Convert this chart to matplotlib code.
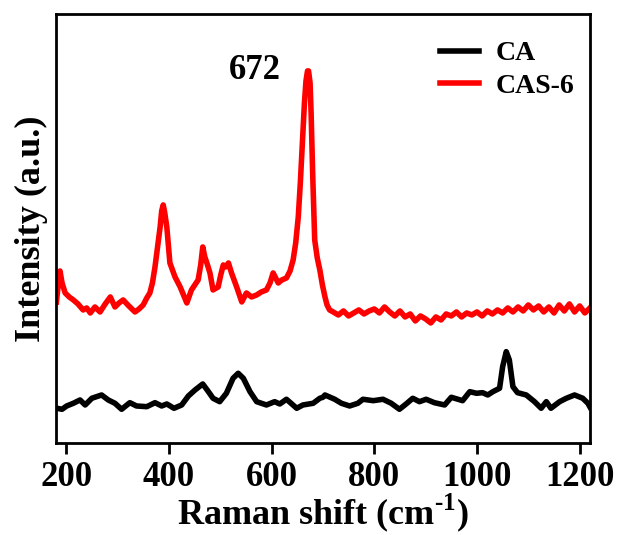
import matplotlib
matplotlib.use("Agg")
import matplotlib.pyplot as plt

plt.rcParams['font.family'] = ['Liberation Serif', 'DejaVu Serif']
plt.rcParams['font.weight'] = 'bold'
plt.rcParams['mathtext.fontset'] = 'custom'
plt.rcParams['mathtext.rm'] = 'Liberation Serif:bold'
plt.rcParams['mathtext.bf'] = 'Liberation Serif:bold'

# CA spectrum (Raman shift in cm-1, intensity in a.u.)
ca_shift = [182, 192, 201, 214, 227, 237, 250, 269, 282, 295, 308, 324, 337, 357,
            373, 386, 396, 410, 425, 438, 451, 466, 477, 486, 499, 512, 525, 535,
            545, 558, 571, 590, 606, 616, 629, 649, 661, 681, 694, 700, 704, 723,
            736, 752, 768, 778, 798, 817, 833, 849, 862, 875, 888, 901, 917, 937,
            950, 963, 972, 986, 999, 1011, 1021, 1031, 1044, 1050, 1057, 1063, 1070,
            1079, 1096, 1112, 1125, 1135, 1144, 1161, 1174, 1190, 1206, 1216, 1220]
ca_int = [34.7, 33.7, 37, 39.7, 43, 38, 44.7, 48, 43, 39.7, 33.7, 40.3, 37, 36.3,
          40.3, 37, 39, 34.7, 38, 47, 53, 59, 51.3, 44.7, 41.3, 49.7, 64.7, 69.7,
          64.7, 51.3, 41.3, 38, 41.3, 39, 43.7, 34.7, 38, 39.7, 44.7, 45.7, 48, 43.7,
          39.7, 37, 39.7, 43.7, 42.3, 43.7, 39.7, 33.7, 39, 44.7, 41.3, 43.7, 40.3, 38,
          45.7, 43.7, 42.3, 51.3, 49.7, 50.3, 48, 51.3, 54.7, 76.3, 91.3, 83, 56.3,
          50.3, 48, 41.3, 34.7, 41.3, 34.7, 41.3, 44.7, 48, 44.7, 39.7, 36]

# CAS-6 spectrum
cas_shift = [181, 185, 188, 192, 198, 206, 214, 223, 233, 240, 247, 256, 266, 276,
             286, 295, 303, 311, 322, 334, 342, 350, 357, 363, 368,
             373, 378, 383, 386, 389, 392, 396, 402, 412, 422, 435, 444, 457, 462, 466,
             470, 474, 480, 486, 496, 501, 506, 511, 516, 522, 532, 542, 551, 561, 571,
             580, 590, 597, 603, 608, 613, 620, 629, 636, 642, 647, 652, 656,
             661, 664, 667, 670, 672, 675, 677, 680, 684, 689, 694, 699, 704, 708, 713,
             720, 730, 740, 750, 760, 770, 780, 790, 800, 810, 820, 830, 840, 850,
             860, 870, 880, 890, 900, 910, 920, 930, 940, 950, 960, 970, 980, 990,
             1000, 1010, 1020, 1030, 1040, 1050, 1060, 1070, 1080, 1090, 1100, 1110,
             1120, 1130, 1140, 1150, 1160, 1170, 1180, 1190, 1200, 1210, 1220]
cas_int = [141, 160, 172, 160, 150, 146, 143, 139, 133, 135, 130, 136, 131, 139,
           146, 136, 140, 143, 137, 131, 134, 138, 145, 150, 160,
           176, 196, 216, 232, 238, 230, 216, 180, 166, 156, 140, 153, 163, 178, 196,
           186, 180, 170, 153, 156, 168, 178, 176, 180, 170, 156, 141, 150, 146, 148,
           151, 153, 160, 170, 165, 160, 163, 165, 172, 183, 200, 226, 260,
           310, 340, 362, 372, 372, 360, 330, 270, 203, 185, 173, 158, 146, 138, 133,
           131, 128, 132, 127, 130, 133, 129, 132, 134, 130, 136, 131, 127, 132,
           126, 129, 122, 127, 124, 120, 126, 123, 129, 127, 131, 126, 130, 128,
           131, 127, 132, 129, 133, 130, 135, 131, 136, 132, 138, 133,
           137, 131, 136, 130, 138, 132, 139, 131, 137, 130, 135]

xticks = [200, 400, 600, 800, 1000, 1200]

fig = plt.figure(figsize=(6.21, 5.35), dpi=100)
ax = fig.add_axes([0.090, 0.172, 0.860, 0.802])

ax.plot(ca_shift, ca_int, color='black', lw=4, label='CA', solid_joinstyle='round')
ax.plot(cas_shift, cas_int, color='red', lw=4, label='CAS-6', solid_joinstyle='round')

ax.text(567, 372, '672', ha='center', va='center', fontsize=25, fontweight='bold')

ax.set_xlim(180, 1220)
ax.set_ylim(0, 429)
ax.set_xticks(xticks)
ax.set_yticks([])
ax.tick_params(axis='x', direction='out', length=8, width=2, labelsize=25, pad=5)
for s in ax.spines.values():
    s.set_linewidth(2)

ax.set_xlabel(r'Raman shift (cm$^{\text{-}1}$)', fontsize=26, fontweight='bold', labelpad=-2)
ax.set_ylabel('Intensity (a.u.)', fontsize=26, fontweight='bold', labelpad=6)

ax.legend(loc='upper left', bbox_to_anchor=(0.719, 0.937), frameon=False,
          fontsize=20, handlelength=1.4, handletextpad=0.6, labelspacing=0.26,
          borderpad=0, borderaxespad=0)

fig.savefig('out.png', dpi=100)
